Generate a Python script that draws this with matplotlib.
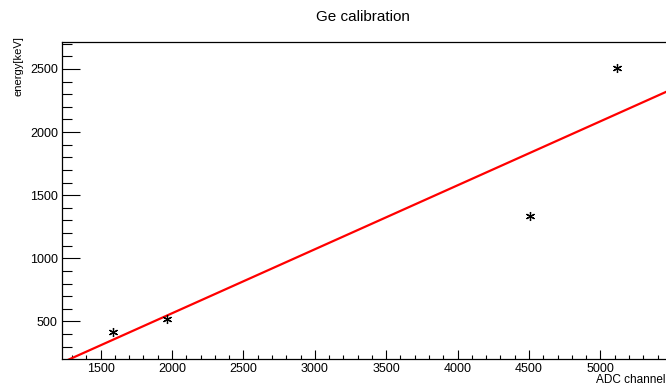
import numpy as np
import matplotlib
matplotlib.use('Agg')
import matplotlib.pyplot as plt
from matplotlib.ticker import MultipleLocator

plt.rcParams['font.family'] = ['Liberation Sans', 'DejaVu Sans']

# calibration points
adc_channel = [1587, 1965, 4507, 5116]
energy_kev = [413, 516, 1337, 2508]

# linear fit drawn in red
fit_slope = 0.507
fit_offset = -450.0

x_range = (1230, 5459)
y_range = (202, 2713)

W, H = 666, 390
fig = plt.figure(figsize=(W / 100, H / 100), dpi=100)
ax = fig.add_axes([62 / W, 31 / H, (666 - 62) / W, (359 - 42) / H])

xs = np.linspace(x_range[0], x_range[1], 200)
ax.plot(xs, fit_slope * xs + fit_offset, color='red', lw=1.6)
ax.plot(adc_channel, energy_kev, linestyle='none', marker=(6, 2, 0),
        markersize=6.5, color='black', markeredgewidth=0.9)

ax.set_xlim(*x_range)
ax.set_ylim(*y_range)

ax.xaxis.set_major_locator(MultipleLocator(500))
ax.xaxis.set_minor_locator(MultipleLocator(100))
ax.yaxis.set_major_locator(MultipleLocator(500))
ax.yaxis.set_minor_locator(MultipleLocator(100))

ax.tick_params(axis='x', which='major', direction='in', length=6.5, width=0.8,
               labelsize=9, pad=3)
ax.tick_params(axis='x', which='minor', direction='in', length=3.2, width=0.8)
ax.tick_params(axis='y', which='major', direction='in', length=13, width=0.8,
               labelsize=9, pad=3)
ax.tick_params(axis='y', which='minor', direction='in', length=7, width=0.8)

ax.spines['right'].set_visible(False)
for s in ('left', 'bottom', 'top'):
    ax.spines[s].set_linewidth(0.9)

fig.text(363 / W, 1 - 17 / H, 'Ge calibration', ha='center', va='center', fontsize=11)
fig.text(18 / W, 1 - 36 / H, 'energy[keV]', rotation=90, ha='center', va='top', fontsize=8)
fig.text(665 / W, 1 - 383 / H, 'ADC channel', ha='right', va='baseline', fontsize=8.5)

fig.savefig('out.png', dpi=100)
